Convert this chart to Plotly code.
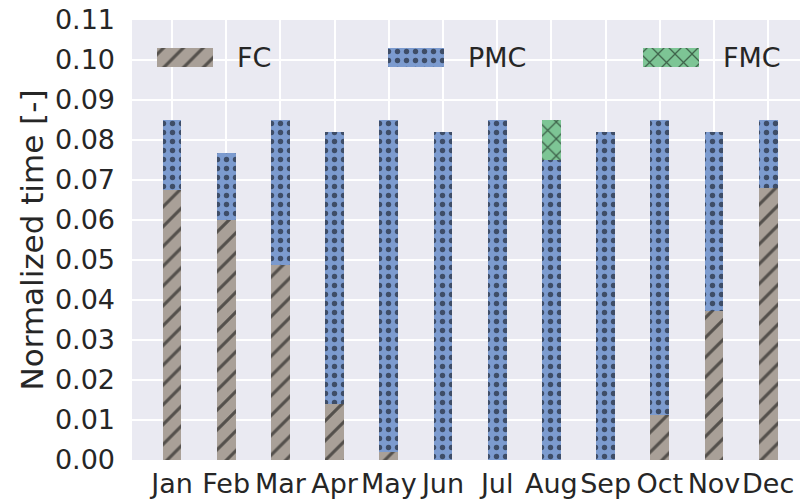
import plotly.graph_objects as go

months = ["Jan", "Feb", "Mar", "Apr", "May", "Jun", "Jul", "Aug", "Sep", "Oct", "Nov", "Dec"]
fc = [0.0674, 0.0600, 0.0487, 0.0140, 0.0020, 0.0, 0.0, 0.0, 0.0, 0.0112, 0.0372, 0.0680]
pmc = [0.0176, 0.0167, 0.0363, 0.0680, 0.0830, 0.0820, 0.0850, 0.0751, 0.0820, 0.0738, 0.0448, 0.0170]
fmc = [0.0, 0.0, 0.0, 0.0, 0.0, 0.0, 0.0, 0.0099, 0.0, 0.0, 0.0, 0.0]
series_names = ["FC", "PMC", "FMC"]
yticks = [0.00, 0.01, 0.02, 0.03, 0.04, 0.05, 0.06, 0.07, 0.08, 0.09, 0.10, 0.11]

C_FC = "#a9a098"
C_PMC = "#7c9bcf"
C_FMC = "#7dc595"
FONT = "DejaVu Sans"
TXT = "#262626"

styles = {
    "FC": dict(color=C_FC, shape="/", size=14, solidity=0.22),
    "PMC": dict(color=C_PMC, shape=".", size=9, solidity=0.28),
    "FMC": dict(color=C_FMC, shape="x", size=12, solidity=0.2),
}

def marker(name):
    s = styles[name]
    return dict(
        color=s["color"], line=dict(width=0),
        pattern=dict(shape=s["shape"], fgcolor="#000000", bgcolor=s["color"],
                     fillmode="overlay", size=s["size"], solidity=s["solidity"]),
    )

fig = go.Figure()
x_idx = list(range(len(months)))
for name, vals in zip(series_names, [fc, pmc, fmc]):
    fig.add_trace(go.Bar(x=x_idx, y=vals, name=name, width=0.35, marker=marker(name),
                         showlegend=False))

# custom legend patches on an overlay pixel-scaled axis
leg_x = {"FC": 25, "PMC": 256, "FMC": 511}
leg_w = 56
leg_yc = 402.5
leg_h = 19
for name in series_names:
    fig.add_trace(go.Bar(x=[leg_w], base=[leg_x[name]], y=[leg_yc], width=[leg_h], orientation="h",
                         marker=marker(name), xaxis="x2", yaxis="y2", showlegend=False,
                         hoverinfo="skip"))
    fig.add_annotation(x=leg_x[name] + 78, y=leg_yc, xref="x2", yref="y2", text=name,
                       showarrow=False, xanchor="left", yanchor="middle",
                       font=dict(family=FONT, size=27, color=TXT))

fig.update_layout(
    width=800, height=502,
    margin=dict(l=132, r=0, t=20, b=42),
    paper_bgcolor="white", plot_bgcolor="#eaeaf2",
    barmode="stack", bargap=0,
    font=dict(family=FONT, size=27, color=TXT),
    xaxis=dict(range=[-0.738, 11.587], tickmode="array", tickvals=x_idx, ticktext=months,
               tickangle=0, showgrid=True, gridcolor="white", gridwidth=1.5, zeroline=False,
               showline=False, ticks="", ticklabelstandoff=5, fixedrange=True, automargin=False),
    yaxis=dict(range=[0, 0.11], tickmode="array", tickvals=yticks,
               ticktext=[f"{v:.2f}" for v in yticks],
               showgrid=True, gridcolor="white", gridwidth=1.5, zeroline=False, showline=False,
               ticks="", ticklabelstandoff=16, automargin=False, fixedrange=True,
               title=dict(text="Normalized time [-]", font=dict(size=31), standoff=2)),
    xaxis2=dict(overlaying="x", range=[0, 668], visible=False, fixedrange=True),
    yaxis2=dict(overlaying="y", range=[0, 440], visible=False, fixedrange=True),
)

fig.write_html("out.html", config={"displayModeBar": False},
               post_script="document.body.style.margin='0px';document.body.style.overflow='hidden';")
